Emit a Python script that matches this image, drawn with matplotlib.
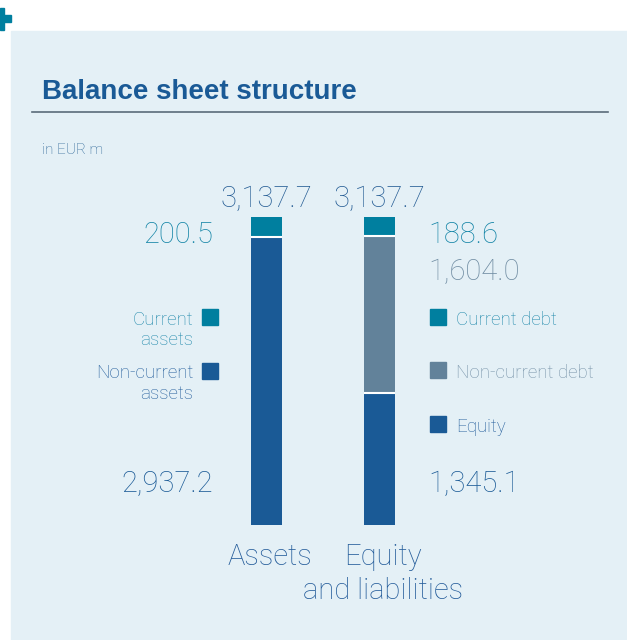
import matplotlib
matplotlib.use("Agg")
import matplotlib.pyplot as plt
from matplotlib.patches import Rectangle

# données (EUR m)
categories    = ["Assets", "Equity\nand liabilities"]
totals        = [3137.7, 3137.7]
current       = [200.5, 188.6]        # current assets / current debt
non_current   = [2937.2, 1604.0]      # non-current assets / non-current debt
equity        = [0.0, 1345.1]
total_labels  = ["3,137.7", "3,137.7"]

TEAL  = "#007f9f"
BLUE  = "#1a5a96"
GREY  = "#62829a"
PANEL = "#e4f0f6"

W, H = 627, 640
FONT = ["Roboto", "DejaVu Sans"]

fig = plt.figure(figsize=(W / 100, H / 100), dpi=100)
fig.patch.set_facecolor("white")


def px(x, y):
    """pixels (origine en haut à gauche) -> fraction de figure"""
    return x / W, 1 - y / H


# panneau bleu clair + petite croix
fig.patches.append(Rectangle(px(11, 640), (W - 11) / W, 609 / H,
                             transform=fig.transFigure, color=PANEL, zorder=-2))
fig.patches.append(Rectangle(px(0, 22), 11 / W, 7 / H,
                             transform=fig.transFigure, color=TEAL, zorder=-1))
fig.patches.append(Rectangle(px(0, 30), 4 / W, 22 / H,
                             transform=fig.transFigure, color=TEAL, zorder=-1))

# titre + ligne
fig.text(*px(42, 99), "Balance sheet structure", fontsize=20, fontweight="bold",
         family=["Liberation Sans", "DejaVu Sans"], color=BLUE, va="baseline")
fig.add_artist(plt.Line2D([32 / W, 608 / W], [1 - 112 / H] * 2,
                          transform=fig.transFigure, color="#5b6b7a", lw=1.2))
fig.text(*px(42, 154), "in EUR m", fontsize=11, family=FONT, fontweight="light",
         color="#2a6496", va="baseline")

# axes : barres empilées
ax = fig.add_axes([210 / W, 115 / H, 226 / W, 308 / H])
ax.set_xlim(-0.5, 1.5)
ax.set_ylim(0, totals[0])
ax.axis("off")

x = [0, 1]
bw = 31 / 113
ax.bar(x, equity, width=bw, color=BLUE, linewidth=0)
ax.bar(x, non_current, bottom=equity, width=bw,
       color=[BLUE, GREY], linewidth=0)
bottoms = [e + n for e, n in zip(equity, non_current)]
ax.bar(x, current, bottom=bottoms, width=bw, color=TEAL, linewidth=0)
# fins séparateurs blancs
for xi, e, b in zip(x, equity, bottoms):
    for yy in ([e, b] if e > 0 else [b]):
        ax.plot([xi - bw / 2, xi + bw / 2], [yy, yy], color="white", lw=1.5,
                solid_capstyle="butt")

# valeurs
num = dict(fontsize=21, family=FONT, fontweight="light", va="baseline")
for xi, lab in zip(x, total_labels):
    fig.text(*px(266.5 + 113 * xi, 207), lab, ha="center", color="#245c94", **num)
fig.text(*px(213, 243), f"{current[0]:,.1f}", ha="right", color="#1284a6", **num)
fig.text(*px(213, 492), f"{non_current[0]:,.1f}", ha="right", color=BLUE, **num)
fig.text(*px(428, 243), f"{current[1]:,.1f}", ha="left", color="#1284a6", **num)
fig.text(*px(428, 280), f"{non_current[1]:,.1f}", ha="left", color="#6f8ca2", **num)
fig.text(*px(428, 492), f"{equity[1]:,.1f}", ha="left", color=BLUE, **num)

# catégories (une ligne à la fois)
for xi, lab in zip(x, categories):
    for i, line in enumerate(lab.split("\n")):
        fig.text(*px(270 + 113 * xi, 565 + 34 * i), line, ha="center",
                 va="baseline", fontsize=21, family=FONT, fontweight="light",
                 color="#245c9a")

# légendes
leg = dict(fontsize=13.5, family=FONT, fontweight="light", va="baseline")


def square(x0, y0, c):
    fig.patches.append(Rectangle(px(x0, y0 + 16), 16 / W, 16 / H,
                                 transform=fig.transFigure, color=c, zorder=2))


square(202, 309, TEAL)
square(202, 363, BLUE)
fig.text(*px(193, 325), "Current", ha="right", color="#228aac", **leg)
fig.text(*px(193, 345), "assets", ha="right", color="#228aac", **leg)
fig.text(*px(193, 378), "Non-current", ha="right", color="#245e9c", **leg)
fig.text(*px(193, 399), "assets", ha="right", color="#245e9c", **leg)

square(430, 309, TEAL)
square(430, 362, GREY)
square(430, 416, BLUE)
fig.text(*px(456, 325), "Current debt", ha="left", color="#228aac", **leg)
fig.text(*px(456, 378), "Non-current debt", ha="left", color="#7692a8", **leg)
fig.text(*px(456, 432), "Equity", ha="left", color="#245e9c", **leg)

plt.savefig("out.png", dpi=100, facecolor=fig.get_facecolor())
